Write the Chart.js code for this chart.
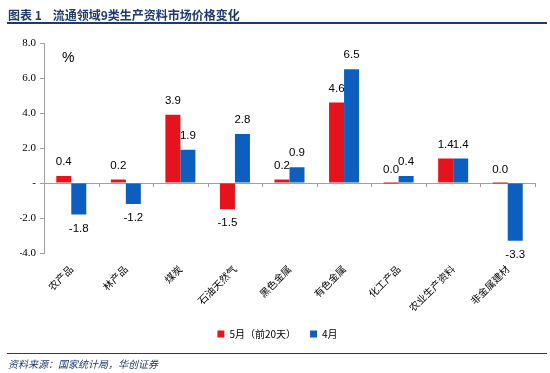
<!DOCTYPE html>
<html>
<head>
<meta charset="utf-8">
<script src="https://cdn.jsdelivr.net/npm/chart.js@4"></script>
<style>
  html, body { margin: 0; padding: 0; background: #fff; }
  #wrap { position: relative; width: 550px; height: 373px; overflow: hidden; }
  #title { position: absolute; left: 8px; top: 6px; font: bold 12px "Noto Sans CJK SC", sans-serif; color: #1f3a6e; white-space: pre; }
  #topline { position: absolute; left: 7px; top: 22px; width: 540px; height: 2px; background: #1f3a6e; }
  #botline { position: absolute; left: 7px; top: 353px; width: 540px; height: 1px; background: #1f3a6e; }
  #source { position: absolute; left: 8px; top: 356px; font: italic 10px "Noto Sans CJK SC", sans-serif; color: #1f3a6e; }
  #pct { position: absolute; left: 62px; top: 49px; font: 14px "Liberation Sans", sans-serif; color: #000; }
  #cv { position: absolute; left: 0; top: 0; }
</style>
</head>
<body>
<div id="wrap">
  <canvas id="cv" width="550" height="373"></canvas>
  <div id="title">图表 1    流通领域9类生产资料市场价格变化</div>
  <div id="topline"></div>
  <div id="pct">%</div>
  <div id="botline"></div>
  <div id="source">资料来源：国家统计局，华创证券</div>
</div>
<script>
const categories = ['农产品', '林产品', '煤炭', '石油天然气', '黑色金属', '有色金属', '化工产品', '农业生产资料', '非金属建材'];
const seriesNames = ['5月（前20天）', '4月'];
const mayValues = [0.4, 0.2, 3.9, -1.5, 0.2, 4.6, 0.0, 1.4, 0.0];
const aprValues = [-1.8, -1.2, 1.9, 2.8, 0.9, 6.5, 0.4, 1.4, -3.3];
const yTicks = [-4, -2, 0, 2, 4, 6, 8];

const RED = '#e5141c';
const BLUE = '#0c5fbe';

const labelPlugin = {
  id: 'valueLabels',
  afterDatasetsDraw(chart) {
    const ctx = chart.ctx;
    ctx.save();
    ctx.font = '11.5px "Liberation Sans", sans-serif';
    ctx.fillStyle = '#000';
    ctx.textAlign = 'center';
    ctx.textBaseline = 'middle';
    chart.data.datasets.forEach((ds, di) => {
      const meta = chart.getDatasetMeta(di);
      meta.data.forEach((bar, i) => {
        const v = ds.data[i];
        const y = v >= 0 ? bar.y - 14 : bar.y + 14;
        ctx.fillText(v.toFixed(1), bar.x, y);
      });
    });
    ctx.restore();
  }
};

const zeroTicksPlugin = {
  id: 'zeroTicks',
  afterDatasetsDraw(chart) {
    const ctx = chart.ctx;
    const y = chart.scales.y;
    const y0 = y.getPixelForValue(0);
    const n = categories.length;
    const step = (chart.chartArea.right - chart.chartArea.left) / n;
    ctx.save();
    ctx.strokeStyle = '#a0a0a0';
    ctx.lineWidth = 1;
    ctx.beginPath();
    for (let k = 1; k <= n; k++) {
      const px = Math.round(chart.chartArea.left + k * step) + 0.5;
      ctx.moveTo(px, y0);
      ctx.lineTo(px, y0 + 4);
    }
    ctx.stroke();
    ctx.restore();
  }
};

new Chart(document.getElementById('cv'), {
  type: 'bar',
  data: {
    labels: categories,
    datasets: [
      { label: seriesNames[0], data: mayValues, backgroundColor: RED, minBarLength: 1 },
      { label: seriesNames[1], data: aprValues, backgroundColor: BLUE }
    ]
  },
  options: {
    responsive: false,
    animation: false,
    devicePixelRatio: 1,
    layout: { padding: { left: 20, right: 15, top: 43, bottom: 24 } },
    datasets: { bar: { barPercentage: 1.0, categoryPercentage: 0.55 } },
    scales: {
      x: {
        grid: { display: false },
        border: { display: false },
        ticks: {
          minRotation: 45, maxRotation: 45, autoSkip: false,
          font: { family: '"Noto Sans CJK SC", serif', size: 10 },
          color: '#000', padding: 2
        },
        afterFit(s) { s.height = 62; }
      },
      y: {
        min: -4, max: 8,
        afterBuildTicks(s) { s.ticks = yTicks.map(v => ({ value: v })); },
        afterFit(s) { s.width = 24; },
        border: { display: true, color: '#a0a0a0' },
        grid: {
          color: c => (c.tick && c.tick.value === 0 ? '#a0a0a0' : 'rgba(0,0,0,0)'),
          tickColor: '#a0a0a0',
          tickLength: 4,
          drawTicks: true
        },
        ticks: {
          font: { family: '"Liberation Serif", serif', size: 11 },
          color: '#000',
          padding: 4,
          callback: v => (v === 0 ? '-' : v.toFixed(1))
        }
      }
    },
    plugins: {
      legend: {
        position: 'bottom',
        labels: {
          boxWidth: 7, boxHeight: 7, padding: 14,
          font: { family: '"Noto Sans CJK SC", serif', size: 10 },
          color: '#000'
        }
      },
      tooltip: { enabled: false }
    }
  },
  plugins: [labelPlugin, zeroTicksPlugin]
});
</script>
</body>
</html>
